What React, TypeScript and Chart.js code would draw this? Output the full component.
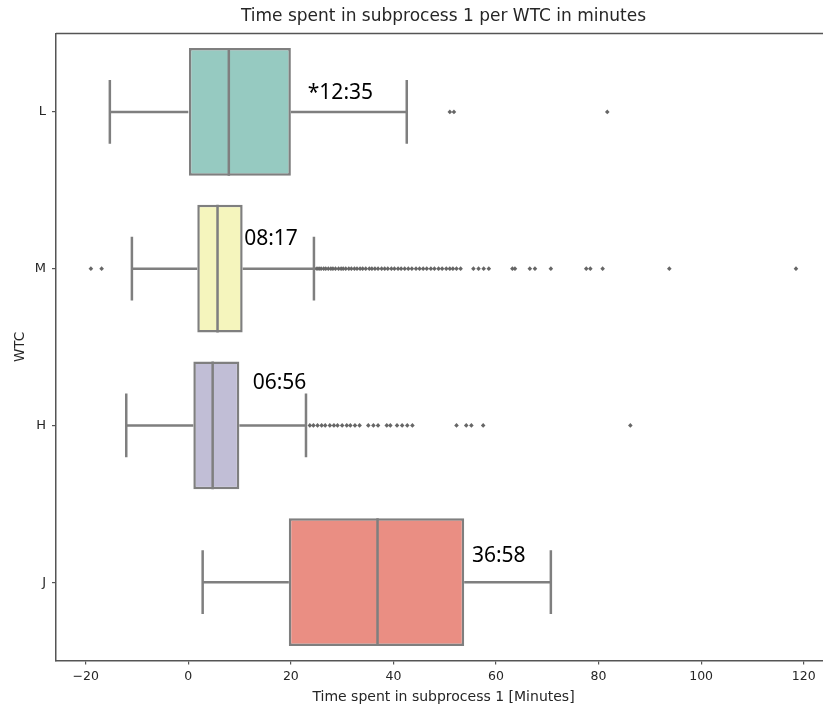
import React, { useEffect, useRef } from 'react';
import { Chart, registerables } from 'chart.js';

Chart.register(...registerables);

const categories = ['L', 'M', 'H', 'J'];
const q1 = [0.0, 1.75, 0.98, 19.6];
const medians = [7.9, 5.7, 4.75, 36.9];
const q3 = [20.0, 10.6, 9.95, 53.8];
const whiskerLow = [-15.3, -11.0, -12.1, 2.8];
const whiskerHigh = [42.6, 24.5, 22.95, 70.7];
const boxColors = ['#96cac1', '#f5f5bd', '#c1bed6', '#ea8e83'];

const outliersL = [51.0, 51.8, 81.7];
const outliersM = [
  -19.0, -16.9, 24.6, 25.1, 25.5, 25.9, 26.4, 26.8, 27.3, 27.8, 28.2, 28.7, 29.3, 29.8,
  30.2, 30.7, 31.3, 31.8, 32.4, 32.9, 33.5, 34.0, 34.6, 35.3, 35.8, 36.4, 37.0, 37.7,
  38.3, 38.9, 39.6, 40.2, 40.9, 41.5, 42.2, 42.9, 43.6, 44.4, 45.1, 45.8, 46.5, 47.3,
  48.0, 48.8, 49.5, 50.3, 51.0, 51.6, 52.3, 53.1, 55.6, 56.6, 57.6, 58.6, 63.2, 63.7,
  66.6, 67.6, 70.7, 77.6, 78.4, 80.8, 93.8, 118.5,
];
const outliersH = [
  23.7, 24.4, 25.2, 26.0, 26.7, 27.6, 28.4, 29.1, 30.0, 30.9, 31.6, 32.5, 33.4, 35.1,
  36.1, 37.0, 38.7, 39.4, 40.7, 41.7, 42.7, 43.7, 52.3, 54.2, 55.2, 57.5, 86.2,
];
const outliersJ: number[] = [];

const annotationLabels = ['*12:35', '08:17', '06:56', '36:58'];
const annotationX = [23.3, 10.9, 12.55, 55.3];

const xMin = -25.8;
const xMax = 125.33;
const xStep = 20;

const chartTitle = 'Time spent in subprocess 1 per WTC in minutes';
const xTitle = 'Time spent in subprocess 1 [Minutes]';
const yTitle = 'WTC';

const LINE = '#7f7f7f';
const AXIS = '#555555';
const TEXT = '#262626';

export default function App() {
  const ref = useRef<HTMLCanvasElement | null>(null);

  useEffect(() => {
    document.body.style.margin = '0';
    const canvas = ref.current;
    if (!canvas) return;

    const outlierPoints: { x: number; y: string }[] = [];
    [outliersL, outliersM, outliersH, outliersJ].forEach((arr, i) => {
      arr.forEach((v) => outlierPoints.push({ x: v, y: categories[i] }));
    });

    const annotationOffsets = [-0.12, -0.19, -0.27, -0.166];

    const boxPlugin = {
      id: 'boxExtras',
      afterDatasetsDraw(chart: any) {
        const ctx = chart.ctx;
        const xs = chart.scales.x;
        const ys = chart.scales.y;
        const meta = chart.getDatasetMeta(0);
        ctx.save();
        ctx.strokeStyle = LINE;
        ctx.lineWidth = 2.5;
        ctx.lineCap = 'butt';
        categories.forEach((c, i) => {
          const el = meta.data[i];
          const yc = ys.getPixelForValue(i);
          const half = el.height / 2;
          const capHalf = half * 0.5;
          const xl = xs.getPixelForValue(whiskerLow[i]);
          const xh = xs.getPixelForValue(whiskerHigh[i]);
          const xq1 = xs.getPixelForValue(q1[i]);
          const xq3 = xs.getPixelForValue(q3[i]);
          const xm = xs.getPixelForValue(medians[i]);
          ctx.beginPath();
          ctx.moveTo(xl, yc);
          ctx.lineTo(xq1, yc);
          ctx.moveTo(xq3, yc);
          ctx.lineTo(xh, yc);
          ctx.moveTo(xl, yc - capHalf);
          ctx.lineTo(xl, yc + capHalf);
          ctx.moveTo(xh, yc - capHalf);
          ctx.lineTo(xh, yc + capHalf);
          ctx.moveTo(xm, yc - half);
          ctx.lineTo(xm, yc + half);
          ctx.stroke();
        });
        ctx.fillStyle = '#000000';
        ctx.font = '21px "Noto Sans"';
        ctx.textAlign = 'left';
        ctx.textBaseline = 'middle';
        const band = (ys.bottom - ys.top) / categories.length;
        annotationLabels.forEach((t, i) => {
          const x = xs.getPixelForValue(annotationX[i]);
          const y = ys.getPixelForValue(i) + annotationOffsets[i] * band;
          ctx.fillText(t, x, y);
        });
        ctx.restore();
      },
      afterDraw(chart: any) {
        const ctx = chart.ctx;
        const a = chart.chartArea;
        ctx.save();
        ctx.strokeStyle = AXIS;
        ctx.lineWidth = 1.5;
        ctx.beginPath();
        ctx.moveTo(a.left, a.top);
        ctx.lineTo(a.right, a.top);
        ctx.lineTo(a.right, a.bottom);
        ctx.stroke();
        ctx.fillStyle = TEXT;
        ctx.textAlign = 'center';
        ctx.textBaseline = 'middle';
        const cx = (a.left + a.right) / 2;
        ctx.font = '17px "DejaVu Sans"';
        ctx.fillText(chartTitle, cx, 17);
        ctx.font = '14px "DejaVu Sans"';
        ctx.fillText(xTitle, cx, 697);
        ctx.font = '13.5px "DejaVu Sans"';
        ctx.translate(20, (a.top + a.bottom) / 2);
        ctx.rotate(-Math.PI / 2);
        ctx.fillText(yTitle, 0, 0);
        ctx.restore();
      },
    };

    const chart = new Chart(canvas, {
      type: 'bar',
      data: {
        labels: categories,
        datasets: [
          {
            type: 'bar',
            data: categories.map((_, i) => [q1[i], q3[i]]),
            backgroundColor: boxColors,
            borderColor: LINE,
            borderWidth: 2.5,
            borderSkipped: false,
            barPercentage: 0.815,
            categoryPercentage: 1.0,
          } as any,
          {
            type: 'scatter',
            data: outlierPoints as any,
            pointStyle: 'rectRot',
            pointRadius: 2.3,
            pointBackgroundColor: '#666666',
            pointBorderWidth: 0,
            showLine: false,
          } as any,
        ],
      },
      options: {
        indexAxis: 'y',
        responsive: false,
        animation: false,
        events: [],
        layout: { padding: { top: 33.5, right: 19, left: 0, bottom: 0 } },
        plugins: {
          legend: { display: false },
          tooltip: { enabled: false },
          title: { display: false },
        },
        scales: {
          x: {
            type: 'linear',
            min: xMin,
            max: xMax,
            afterFit: (s: any) => {
              s.height = 48.5;
            },
            ticks: {
              stepSize: xStep,
              includeBounds: false,
              color: TEXT,
              padding: 5,
              font: { family: 'DejaVu Sans', size: 12.5 },
              callback: (v: any) => String(v).replace('-', '\u2212'),
            },
            grid: {
              drawOnChartArea: false,
              drawTicks: true,
              tickLength: 4,
              color: AXIS,
              lineWidth: 1.2,
            },
            border: { display: true, color: AXIS, width: 1.5 },
          },
          y: {
            type: 'category',
            offset: true,
            afterFit: (s: any) => {
              s.width = 56;
            },
            ticks: {
              color: TEXT,
              padding: 6,
              font: { family: 'DejaVu Sans', size: 13 },
            },
            grid: {
              offset: false,
              drawOnChartArea: false,
              drawTicks: true,
              tickLength: 4,
              color: AXIS,
              lineWidth: 1.2,
            },
            border: { display: true, color: AXIS, width: 1.5 },
          },
        },
      } as any,
      plugins: [boxPlugin],
    });

    return () => chart.destroy();
  }, []);

  return (
    <div style={{ width: 823, height: 709, overflow: 'hidden', position: 'relative', background: '#fff' }}>
      <canvas ref={ref} width={850} height={709} style={{ display: 'block', width: 850, height: 709 }} />
    </div>
  );
}
